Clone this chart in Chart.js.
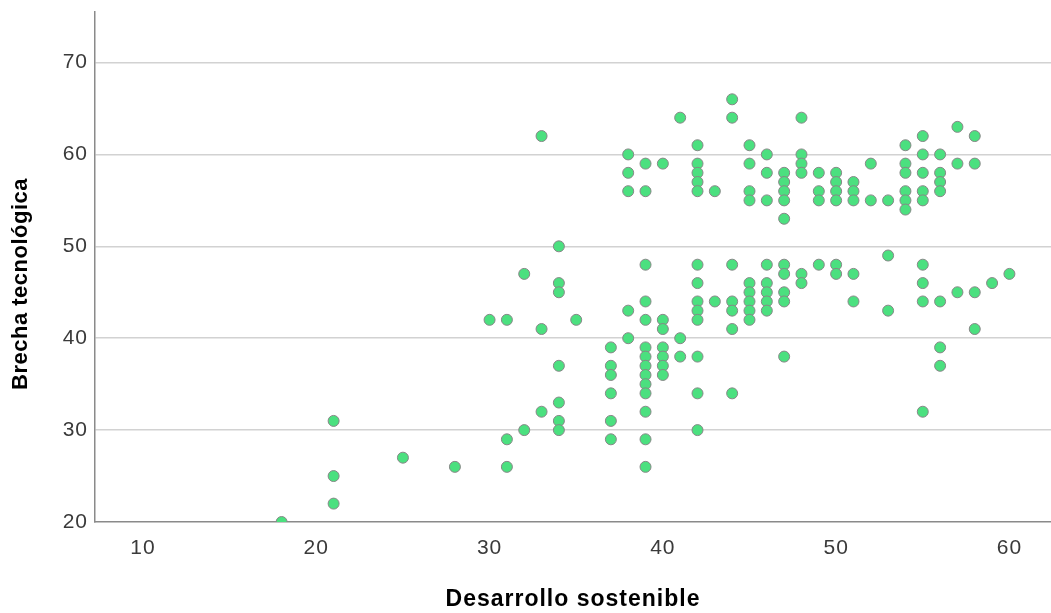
<!DOCTYPE html>
<html>
<head>
<meta charset="utf-8">
<script src="https://cdn.jsdelivr.net/npm/chart.js@4.4.0/dist/chart.umd.min.js"></script>
<style>
  html, body { margin: 0; padding: 0; background: #fff; }
</style>
</head>
<body>
<canvas id="scatterChart" width="1051" height="613"></canvas>
<script>
// Desarrollo sostenible (x) and the Brecha tecnológica values seen at each x
const desarrolloX = [18, 21, 25, 28, 30, 31, 32, 33, 34, 35, 37, 38, 39, 40, 41, 42, 43, 44, 45, 46,
                     47, 48, 49, 50, 51, 52, 53, 54, 55, 56, 57, 58, 59, 60];
const brechaY = [
    [20],
    [31, 25, 22],
    [27],
    [26],
    [42],
    [42, 29, 26],
    [47, 30],
    [62, 41, 32],
    [50, 46, 45, 37, 33, 31, 30],
    [42],
    [39, 37, 36, 34, 31, 29],
    [60, 58, 56, 43, 40],
    [59, 56, 48, 44, 42, 39, 38, 37, 36, 35, 34, 32, 29, 26],
    [59, 42, 41, 39, 38, 37, 36],
    [64, 40, 38],
    [61, 59, 58, 57, 56, 48, 46, 44, 43, 42, 38, 34, 30],
    [56, 44],
    [66, 64, 48, 44, 43, 41, 34],
    [61, 59, 56, 55, 46, 45, 44, 43, 42],
    [60, 58, 55, 48, 46, 45, 44, 43],
    [58, 57, 56, 55, 53, 48, 47, 45, 44, 38],
    [64, 60, 59, 58, 47, 46],
    [58, 56, 55, 48],
    [58, 57, 56, 55, 48, 47],
    [57, 56, 55, 47, 44],
    [59, 55],
    [55, 49, 43],
    [61, 59, 58, 56, 55, 54],
    [62, 60, 58, 56, 55, 48, 46, 44, 32],
    [60, 58, 57, 56, 44, 39, 37],
    [63, 59, 45],
    [62, 59, 45, 41],
    [46],
    [47]
];
const xTicks = [10, 20, 30, 40, 50, 60];
const yTicks = [20, 30, 40, 50, 60, 70];
const xTitle = 'Desarrollo sostenible';
const yTitle = 'Brecha tecnológica';

const points = [];
desarrolloX.forEach((x, i) => {
    brechaY[i].forEach(y => points.push({ x: x, y: y }));
});

const fontFamily = '"Liberation Sans", Arial, sans-serif';

// the reference text is drawn a bit wider than plain Arial
const spacingPlugin = {
    id: 'spacing',
    beforeDraw: chart => { chart.ctx.letterSpacing = '1px'; },
    afterDraw: chart => { chart.ctx.letterSpacing = '0px'; }
};

// y title sits a little below the middle of the axis in the reference
const yTitlePlugin = {
    id: 'yTitle',
    afterDraw: chart => {
        const ctx = chart.ctx;
        const area = chart.chartArea;
        ctx.save();
        ctx.letterSpacing = '0.5px';
        ctx.font = 'bold 22px ' + fontFamily;
        ctx.fillStyle = '#000';
        ctx.textAlign = 'center';
        ctx.textBaseline = 'middle';
        ctx.translate(21, (area.top + area.bottom) / 2 + 17);
        ctx.rotate(-Math.PI / 2);
        ctx.fillText(yTitle, 0, 0);
        ctx.restore();
    }
};

new Chart(document.getElementById('scatterChart'), {
    type: 'scatter',
    data: {
        datasets: [{
            data: points,
            backgroundColor: '#4be07f',
            borderColor: '#878787',
            borderWidth: 1,
            pointRadius: 5.5,
            clip: 0
        }]
    },
    options: {
        responsive: false,
        animation: false,
        layout: {
            autoPadding: false,
            padding: { top: 12, right: 0, left: 0, bottom: 0 }
        },
        plugins: {
            legend: { display: false },
            tooltip: { enabled: false }
        },
        scales: {
            x: {
                type: 'linear',
                min: 7.23,
                max: 62.4,
                afterBuildTicks: scale => { scale.ticks = xTicks.map(v => ({ value: v })); },
                afterFit: scale => {
                    scale.height = 91;
                    scale.paddingLeft = 0;
                    scale.paddingRight = 0;
                },
                grid: { display: false, drawTicks: false },
                border: { display: true, color: '#8a8a8a', width: 1.5 },
                ticks: {
                    color: '#3a3a3a',
                    font: { family: fontFamily, size: 21 },
                    padding: 14,
                    maxRotation: 0
                },
                title: {
                    display: true,
                    text: xTitle,
                    color: '#000',
                    font: { family: fontFamily, size: 23, weight: 'bold' },
                    padding: { top: 3, bottom: 0 }
                }
            },
            y: {
                type: 'linear',
                min: 20,
                max: 75.5,
                afterBuildTicks: scale => { scale.ticks = yTicks.map(v => ({ value: v })); },
                afterFit: scale => {
                    scale.width = 95;
                    scale.paddingTop = 0;
                    scale.paddingBottom = 0;
                },
                grid: {
                    drawTicks: false,
                    lineWidth: 1.5,
                    color: ctx => (ctx.tick && ctx.tick.value === 20) ? 'rgba(0,0,0,0)' : '#d2d2d2'
                },
                border: { display: true, color: '#8a8a8a', width: 1.5 },
                ticks: {
                    color: '#3a3a3a',
                    font: { family: fontFamily, size: 21 },
                    padding: 7
                },
                title: { display: false }
            }
        }
    },
    plugins: [spacingPlugin, yTitlePlugin]
});
</script>
</body>
</html>
